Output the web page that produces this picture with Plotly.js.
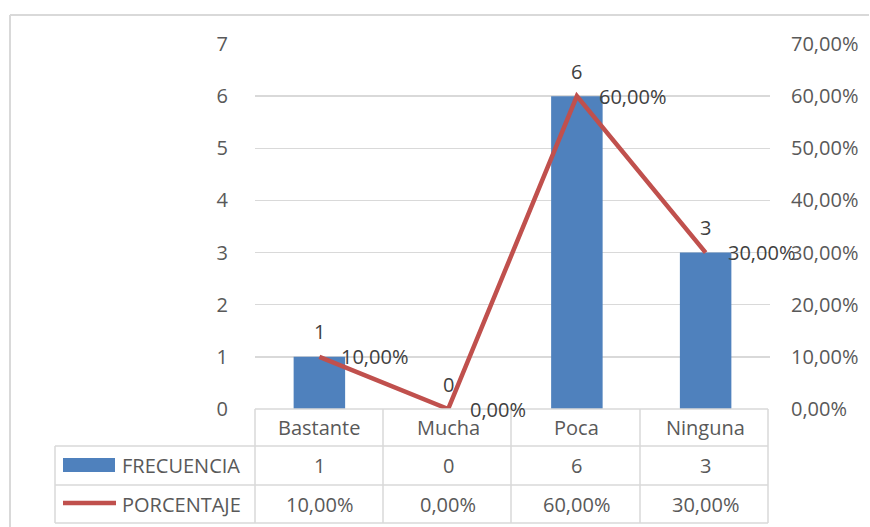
<!DOCTYPE html>
<html>
<head>
<meta charset="utf-8">
<script src="https://cdn.plot.ly/plotly-3.0.1.min.js"></script>
<style>html,body{margin:0;padding:0;background:#fff;}#chart{width:870px;height:527px;}</style>
</head>
<body>
<div id="chart"></div>
<script>
var categories = ['Bastante', 'Mucha', 'Poca', 'Ninguna'];
var frecuencia = [1, 0, 6, 3];
var porcentaje = [0.10, 0.00, 0.60, 0.30];
var seriesNames = ['FRECUENCIA', 'PORCENTAJE'];

var W = 870, H = 527;
var L = 255, R = 770, T = 44, B = 409;
function px(x) { return (x - L) / (R - L); }
function py(y) { return (B - y) / (B - T); }
function fmtPct(v) { return (v * 100).toFixed(2).replace('.', ',') + '%'; }

var FONT = 'Open Sans, Liberation Sans, sans-serif';
var grey = '#595959', dark = '#404040', lineC = '#D9D9D9';
var barC = '#4F81BD', redC = '#C0504D';

var traces = [
  { type: 'bar', x: categories, y: frecuencia, name: seriesNames[0],
    marker: { color: barC }, hoverinfo: 'skip' },
  { type: 'scatter', mode: 'lines', x: categories, y: porcentaje, yaxis: 'y2', name: seriesNames[1],
    line: { color: redC, width: 4.5 }, hoverinfo: 'skip' }
];

var ann = [];
var shapes = [];
categories.forEach(function (c, i) {
  ann.push({ x: c, y: frecuencia[i], xref: 'x', yref: 'y', text: String(frecuencia[i]),
    showarrow: false, yshift: 25, font: { family: FONT, size: 20, color: dark } });
  ann.push({ x: c, y: porcentaje[i], xref: 'x', yref: 'y2', text: fmtPct(porcentaje[i]),
    showarrow: false, xanchor: 'left', xshift: 20, font: { family: FONT, size: 20, color: dark } });
  // table header
  ann.push({ x: c, y: py(428), xref: 'x', yref: 'paper', text: c, showarrow: false,
    yanchor: 'middle', font: { family: FONT, size: 20, color: grey } });
  ann.push({ x: c, y: py(466), xref: 'x', yref: 'paper', text: String(frecuencia[i]), showarrow: false,
    yanchor: 'middle', font: { family: FONT, size: 20, color: grey } });
  ann.push({ x: c, y: py(504), xref: 'x', yref: 'paper', text: fmtPct(porcentaje[i]), showarrow: false,
    yanchor: 'middle', font: { family: FONT, size: 20, color: grey } });
});
ann.push({ x: px(120), y: py(466), xref: 'paper', yref: 'paper', text: seriesNames[0], showarrow: false,
  xanchor: 'left', yanchor: 'middle', font: { family: FONT, size: 20, color: grey } });
ann.push({ x: px(120), y: py(504), xref: 'paper', yref: 'paper', text: seriesNames[1], showarrow: false,
  xanchor: 'left', yanchor: 'middle', font: { family: FONT, size: 20, color: grey } });

function hline(x0, x1, y) {
  shapes.push({ type: 'line', xref: 'paper', yref: 'paper', x0: px(x0), x1: px(x1), y0: py(y), y1: py(y),
    line: { color: lineC, width: 1.5 } });
}
function vline(x, y0, y1) {
  shapes.push({ type: 'line', xref: 'paper', yref: 'paper', x0: px(x), x1: px(x), y0: py(y0), y1: py(y1),
    line: { color: lineC, width: 1.5 } });
}
hline(255, 768, 409);
hline(55, 768, 446);
hline(55, 768, 485);
hline(55, 768, 523);
vline(55, 446, 523);
[255, 383, 511, 640, 768].forEach(function (x) { vline(x, 409, 523); });
// outer border
shapes.push({ type: 'line', xref: 'paper', yref: 'paper', x0: px(10), x1: px(869), y0: py(15), y1: py(15),
  line: { color: lineC, width: 2 } });
shapes.push({ type: 'line', xref: 'paper', yref: 'paper', x0: px(10), x1: px(10), y0: py(15), y1: py(527),
  line: { color: lineC, width: 2 } });
// legend keys
shapes.push({ type: 'rect', xref: 'paper', yref: 'paper', x0: px(63), x1: px(115), y0: py(458), y1: py(472),
  fillcolor: barC, line: { width: 0 } });
shapes.push({ type: 'line', xref: 'paper', yref: 'paper', x0: px(63), x1: px(116), y0: py(503), y1: py(503),
  line: { color: redC, width: 4.5 } });

var layout = {
  width: W, height: H,
  margin: { l: L, r: W - R, t: T, b: H - B, pad: 0 },
  paper_bgcolor: '#fff', plot_bgcolor: 'rgba(0,0,0,0)',
  separators: ',.',
  showlegend: false,
  bargap: 0.6,
  font: { family: FONT, size: 20, color: grey },
  xaxis: { type: 'category', range: [-0.5, 3.5], showticklabels: false, showgrid: false,
    zeroline: false, showline: false, ticks: '' },
  yaxis: { range: [0, 7], dtick: 1, tick0: 0, showgrid: true, gridcolor: lineC, gridwidth: 1.5,
    zeroline: false, showline: false, ticks: 'outside', ticklen: 22, tickcolor: 'rgba(0,0,0,0)',
    tickfont: { family: FONT, size: 20, color: grey } },
  yaxis2: { range: [0, 0.7], dtick: 0.1, tick0: 0, overlaying: 'y', side: 'right', showgrid: false,
    zeroline: false, showline: false, tickformat: '.2%', ticks: 'outside', ticklen: 16,
    tickcolor: 'rgba(0,0,0,0)', tickfont: { family: FONT, size: 20, color: grey } },
  annotations: ann,
  shapes: shapes
};

Plotly.newPlot('chart', traces, layout, { staticPlot: true, displayModeBar: false });
</script>
</body>
</html>
